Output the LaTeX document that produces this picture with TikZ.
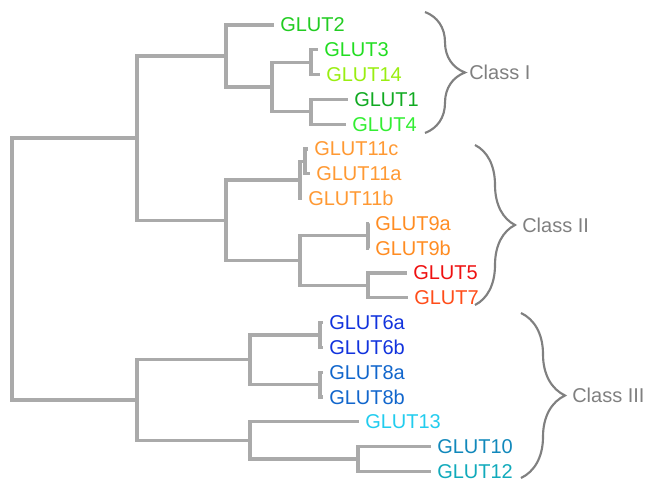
\documentclass[tikz,border=0pt]{standalone}
\usepackage{fontspec}
\setmainfont{Liberation Sans}
\usepackage{tikz}
\usetikzlibrary{positioning,decorations.pathreplacing}
\definecolor{branch}{HTML}{AAAAAA}
\definecolor{bracegray}{HTML}{808080}
\tikzstyle{leaf}= [anchor=west, inner xsep=4.5pt, inner ysep=0pt, font=\fontsize{15}{18}\selectfont]
\tikzstyle{edge}= [draw=branch, line width=2.5pt]
\tikzstyle{clbrace}= [draw=bracegray, line width=1.6pt, decorate, decoration={brace, amplitude=30pt}]
\tikzstyle{clname}= [anchor=west, inner sep=0pt, text=bracegray, font=\fontsize{15}{18}\selectfont]

\begin{document}
\begin{tikzpicture}[x=0.75pt, y=-0.75pt]
				\useasboundingbox (0,0) rectangle (645,484);

				% leaves
				\node[leaf, text={rgb,255:red,34;green,204;blue,34}] (g2) at (274, 25) {GLUT2};
				\node[leaf, text={rgb,255:red,34;green,221;blue,34}] (g3) at (318, 49.8) {GLUT3};
				\node[leaf, text={rgb,255:red,153;green,238;blue,17}] (g14) at (320, 74.6) {GLUT14};
				\node[leaf, text={rgb,255:red,17;green,170;blue,34}] (g1) at (348, 99.4) {GLUT1};
				\node[leaf, text={rgb,255:red,51;green,238;blue,51}] (g4) at (346, 124.2) {GLUT4};
				\node[leaf, text={rgb,255:red,255;green,153;blue,51}] (g11c) at (308, 149) {GLUT11c};
				\node[leaf, text={rgb,255:red,255;green,153;blue,51}] (g11a) at (310, 173.8) {GLUT11a};
				\node[leaf, text={rgb,255:red,255;green,153;blue,51}] (g11b) at (302, 198.6) {GLUT11b};
				\node[leaf, text={rgb,255:red,255;green,140;blue,34}] (g9a) at (369, 223.4) {GLUT9a};
				\node[leaf, text={rgb,255:red,255;green,140;blue,34}] (g9b) at (369, 248.2) {GLUT9b};
				\node[leaf, text={rgb,255:red,238;green,17;blue,17}] (g5) at (407, 273) {GLUT5};
				\node[leaf, text={rgb,255:red,255;green,77;blue,26}] (g7) at (408, 297.8) {GLUT7};
				\node[leaf, text={rgb,255:red,17;green,51;blue,221}] (g6a) at (323, 322.6) {GLUT6a};
				\node[leaf, text={rgb,255:red,17;green,51;blue,221}] (g6b) at (323, 347.4) {GLUT6b};
				\node[leaf, text={rgb,255:red,17;green,102;blue,204}] (g8a) at (323, 372.2) {GLUT8a};
				\node[leaf, text={rgb,255:red,17;green,102;blue,204}] (g8b) at (323, 397) {GLUT8b};
				\node[leaf, text={rgb,255:red,34;green,204;blue,238}] (g13) at (359, 421.8) {GLUT13};
				\node[leaf, text={rgb,255:red,17;green,136;blue,187}] (g10) at (431, 446.6) {GLUT10};
				\node[leaf, text={rgb,255:red,17;green,170;blue,187}] (g12) at (431, 471.4) {GLUT12};

				% inner nodes
				\coordinate (p314) at (311, 62.2);
				\coordinate (p14) at (311, 111.8);
				\coordinate (p1314) at (272, 87);
				\coordinate (pI) at (226, 56);
				\coordinate (p11ca) at (305, 161.4);
				\coordinate (p11) at (300, 180);
				\coordinate (p9) at (368, 235.8);
				\coordinate (p57) at (368, 285.4);
				\coordinate (p579) at (300, 260.6);
				\coordinate (pII) at (226, 220.3);
				\coordinate (pIandII) at (137, 138);
				\coordinate (p6) at (320, 335);
				\coordinate (p8) at (320, 384.6);
				\coordinate (p68) at (250, 359.8);
				\coordinate (p1012) at (358, 459);
				\coordinate (p1013) at (250, 440.4);
				\coordinate (pIII) at (137, 400);
				\coordinate (root) at (12, 269);

				\draw[edge](root) |- (pIandII);
				\draw[edge](root) |- (pIII);
				\draw[edge](pIandII) |- (pI);
				\draw[edge](pIandII) |- (pII);
				\draw[edge](pI) |- (g2.west);
				\draw[edge](pI) |- (p1314);
				\draw[edge](p1314) |- (p314);
				\draw[edge](p1314) |- (p14);
				\draw[edge](p314) |- (g3.west);
				\draw[edge](p314) |- (g14.west);
				\draw[edge](p14) |- (g1.west);
				\draw[edge](p14) |- (g4.west);
				\draw[edge](pII) |- (p11);
				\draw[edge](pII) |- (p579);
				\draw[edge](p11) |- (p11ca);
				\draw[edge](p11) |- (g11b.west);
				\draw[edge](p11ca) |- (g11c.west);
				\draw[edge](p11ca) |- (g11a.west);
				\draw[edge](p579) |- (p9);
				\draw[edge](p579) |- (p57);
				\draw[edge](p9) |- (g9a.west);
				\draw[edge](p9) |- (g9b.west);
				\draw[edge](p57) |- (g5.west);
				\draw[edge](p57) |- (g7.west);
				\draw[edge](pIII) |- (p68);
				\draw[edge](pIII) |- (p1013);
				\draw[edge](p68) |- (p6);
				\draw[edge](p68) |- (p8);
				\draw[edge](p6) |- (g6a.west);
				\draw[edge](p6) |- (g6b.west);
				\draw[edge](p8) |- (g8a.west);
				\draw[edge](p8) |- (g8b.west);
				\draw[edge](p1013) |- (g13.west);
				\draw[edge](p1013) |- (p1012);
				\draw[edge](p1012) |- (g10.west);
				\draw[edge](p1012) |- (g12.west);

				% classes
				\coordinate (bItop) at (425, 12);
				\coordinate (bIbot) at (425, 133);
				\coordinate (bIItop) at (475, 145);
				\coordinate (bIIbot) at (475, 305);
				\coordinate (bIIItop) at (521, 313);
				\coordinate (bIIIbot) at (521, 478);
				\node[clname] (cI) at (469, 72.5) {Class I};
				\node[clname] (cII) at (522, 225) {Class II};
				\node[clname] (cIII) at (572, 395.5) {Class III};

				\draw[clbrace](bItop) -- (bIbot);
				\draw[clbrace](bIItop) -- (bIIbot);
				\draw[clbrace, decoration={amplitude=33pt}](bIIItop) -- (bIIIbot);
			\end{tikzpicture}
\end{document}
